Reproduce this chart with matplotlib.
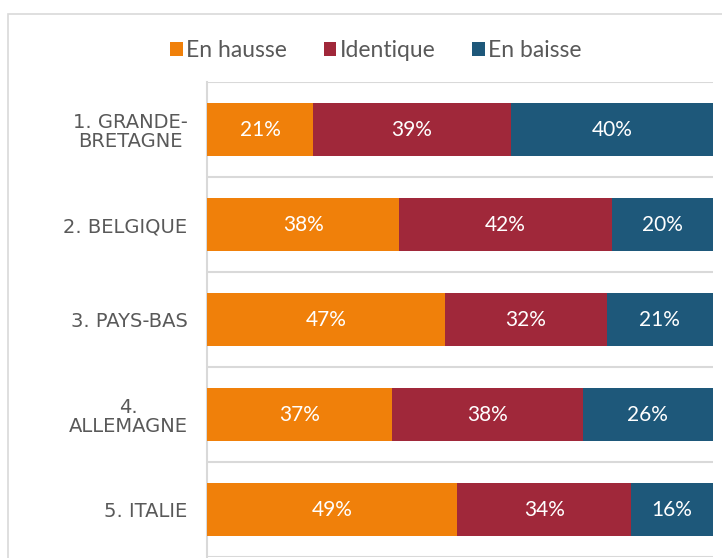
import numpy as np
import matplotlib.pyplot as plt
from matplotlib.patches import Rectangle

# donnees
pays = ['1. GRANDE-\nBRETAGNE', '2. BELGIQUE', '3. PAYS-BAS', '4.\nALLEMAGNE', '5. ITALIE']
hausse = [21, 38, 47, 37, 49]
identique = [39, 42, 32, 38, 34]
baisse = [40, 20, 21, 26, 16]
series = ['En hausse', 'Identique', 'En baisse']
couleurs = ['#F0800A', '#A0283A', '#1E587A']

plt.rcParams['font.family'] = ['Lato', 'DejaVu Sans']

fig = plt.figure(figsize=(7.22, 5.58), dpi=100)
ax = fig.add_axes([207 / 722, 1 - 557 / 558, (713 - 207) / 722, (557 - 82) / 558])

# cadre exterieur du graphique (coupe a droite et en bas)
fig.patches.append(Rectangle((8 / 722, -0.05), 1.2, 1 - 14 / 558 + 0.05,
                             transform=fig.transFigure, fill=False,
                             edgecolor='#D9D9D9', lw=1.2))

data = np.array([hausse, identique, baisse], dtype=float)
tot = data.sum(axis=0)
parts = data / tot * 100  # graphique empile 100 %
y = np.arange(len(pays))
gauche = np.zeros(len(pays))
for i in range(3):
    ax.barh(y, parts[i], left=gauche, height=0.56, color=couleurs[i],
            label=series[i], zorder=3)
    for k in range(len(pays)):
        ax.text(gauche[k] + parts[i][k] / 2, y[k], '%d%%' % data[i][k],
                ha='center', va='center', color='white', fontsize=15, zorder=4)
    gauche += parts[i]

ax.set_xlim(0, 100)
ax.set_ylim(len(pays) - 0.5, -0.5)
ax.set_xticks([])
ax.set_yticks(y)
ax.set_yticklabels(pays, color='#595959', fontsize=14, family=['DejaVu Sans'],
                   multialignment='center', linespacing=1.05)
ax.tick_params(axis='y', length=0, pad=14)
for b in np.arange(-0.5, len(pays) + 0.5, 1):
    ax.axhline(b, color='#D9D9D9', lw=1.5, zorder=1)
for s in ['top', 'right', 'bottom']:
    ax.spines[s].set_visible(False)
ax.spines['left'].set_color('#D9D9D9')
ax.spines['left'].set_linewidth(1.5)

fig.legend(loc='center', bbox_to_anchor=(376 / 722, 1 - 51 / 558), ncol=3,
           frameon=False, fontsize=16.5, handlelength=0.55, handleheight=0.55,
           handletextpad=0.15, columnspacing=1.6, labelcolor='#595959')

fig.savefig('out.png', dpi=100)
